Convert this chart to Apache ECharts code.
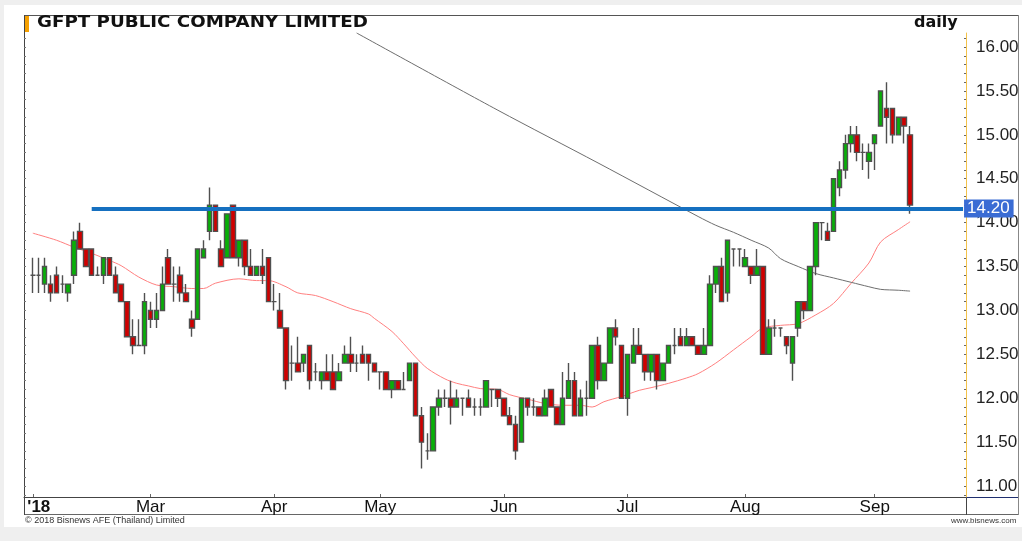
<!DOCTYPE html>
<html>
<head>
<meta charset="utf-8">
<title>GFPT daily</title>
<script src="https://cdn.jsdelivr.net/npm/echarts@6/dist/echarts.min.js"></script>
<style>
  html, body { margin: 0; padding: 0; background: #efefef; }
  #chart { width: 1022px; height: 541px; }
</style>
</head>
<body>
<div id="chart"></div>
<script>
// daily bars, Feb 1 - Sep 11 2018 (slot 0 and the last slots are empty)
var opens = [
  13.4, 13.4, 13.3, 13.3, 13.4, 13.3, 13.2, 13.4, 13.9, 13.7,
  13.7, 13.4, 13.4, 13.6, 13.4, 13.3, 13.1, 12.7, 12.6, 12.6,
  13.0, 12.9, 13.0, 13.6, 13.3, 13.4, 13.2, 12.9, 12.9, 13.6,
  13.9, 14.2, 13.7, 13.6, 14.2, 13.6, 13.8, 13.5, 13.4, 13.5,
  13.6, 13.1, 13.0, 12.8, 12.4, 12.4, 12.4, 12.6, 12.3, 12.2,
  12.3, 12.3, 12.2, 12.4, 12.5, 12.4, 12.5, 12.5, 12.4, 12.3,
  12.3, 12.1, 12.2, 12.1, 12.2, 12.4, 11.8, 11.4, 11.4, 11.9,
  12.0, 12.0, 11.9, 12.0, 12.0, 11.9, 11.9, 11.9, 12.1, 12.1,
  12.0, 11.8, 11.7, 11.5, 12.0, 11.9, 11.9, 11.8, 12.1, 11.9,
  11.7, 12.0, 12.2, 11.8, 12.0, 12.0, 12.6, 12.2, 12.4, 12.8,
  12.6, 12.0, 12.4, 12.6, 12.5, 12.3, 12.5, 12.2, 12.4, 12.6,
  12.7, 12.6, 12.7, 12.6, 12.5, 12.6, 13.3, 13.5, 13.2, 13.7,
  13.7, 13.5, 13.5, 13.4, 13.5, 12.5, 12.8, 12.8, 12.7, 12.4,
  12.8, 13.1, 13.0, 13.5, 14.0, 13.9, 13.9, 14.4, 14.6, 14.9,
  15.0, 14.8, 14.7, 14.9, 15.1, 15.3, 15.3, 15.0, 15.2, 15.0
];
var closes = [
  13.4, 13.4, 13.5, 13.2, 13.2, 13.3, 13.3, 13.8, 13.7, 13.5,
  13.4, 13.4, 13.6, 13.4, 13.2, 13.1, 12.7, 12.6, 12.6, 13.1,
  12.9, 13.0, 13.3, 13.3, 13.3, 13.2, 13.1, 12.8, 13.7, 13.7,
  14.2, 13.9, 13.5, 14.1, 13.6, 13.8, 13.5, 13.4, 13.5, 13.4,
  13.1, 13.1, 12.8, 12.2, 12.4, 12.3, 12.5, 12.2, 12.3, 12.3,
  12.2, 12.1, 12.3, 12.5, 12.4, 12.4, 12.4, 12.4, 12.3, 12.3,
  12.1, 12.2, 12.1, 12.1, 12.4, 11.8, 11.5, 11.4, 11.9, 12.0,
  12.0, 11.9, 12.0, 12.0, 11.9, 11.9, 11.9, 12.2, 12.1, 12.0,
  11.8, 11.7, 11.4, 12.0, 11.9, 11.9, 11.8, 12.0, 11.9, 11.7,
  12.0, 12.2, 11.8, 12.0, 12.0, 12.6, 12.2, 12.4, 12.8, 12.7,
  12.0, 12.5, 12.6, 12.5, 12.3, 12.5, 12.2, 12.4, 12.6, 12.6,
  12.6, 12.7, 12.6, 12.5, 12.6, 13.3, 13.5, 13.1, 13.8, 13.7,
  13.7, 13.6, 13.4, 13.5, 12.5, 12.8, 12.8, 12.8, 12.6, 12.7,
  13.1, 13.0, 13.5, 14.0, 14.0, 13.8, 14.5, 14.6, 14.9, 15.0,
  14.8, 14.8, 14.8, 15.0, 15.5, 15.2, 15.0, 15.2, 15.1, 14.2
];
var lows = [
  13.2, 13.2, 13.2, 13.1, 13.2, 13.2, 13.1, 13.3, 13.7, 13.5,
  13.4, 13.4, 13.3, 13.4, 13.2, 13.1, 12.7, 12.5, 12.6, 12.5,
  12.8, 12.8, 13.0, 13.3, 13.1, 13.1, 13.1, 12.7, 12.9, 13.6,
  13.8, 13.9, 13.5, 13.6, 13.6, 13.5, 13.4, 13.4, 13.4, 13.3,
  13.1, 13.0, 12.8, 12.1, 12.2, 12.3, 12.3, 12.1, 12.2, 12.1,
  12.2, 12.1, 12.2, 12.4, 12.3, 12.3, 12.4, 12.2, 12.3, 12.1,
  12.1, 12.0, 12.1, 12.1, 12.2, 11.8, 11.2, 11.3, 11.4, 11.8,
  11.9, 11.7, 11.9, 11.8, 11.9, 11.8, 11.8, 11.9, 11.9, 11.9,
  11.8, 11.7, 11.3, 11.5, 11.8, 11.8, 11.8, 11.8, 11.9, 11.7,
  11.7, 12.0, 11.8, 11.8, 11.8, 12.0, 12.1, 12.2, 12.4, 12.6,
  12.0, 11.8, 12.4, 12.5, 12.2, 12.2, 12.1, 12.2, 12.4, 12.5,
  12.6, 12.6, 12.6, 12.5, 12.5, 12.6, 13.2, 13.1, 13.1, 13.5,
  13.5, 13.5, 13.3, 13.4, 12.5, 12.5, 12.7, 12.7, 12.5, 12.2,
  12.7, 12.9, 13.0, 13.4, 13.8, 13.8, 13.9, 14.3, 14.5, 14.8,
  14.7, 14.6, 14.5, 14.6, 15.1, 14.9, 14.9, 15.0, 14.9, 14.1
];
var highs = [
  13.6, 13.6, 13.6, 13.4, 13.5, 13.4, 13.3, 13.9, 14.0, 13.7,
  13.7, 13.5, 13.6, 13.6, 13.5, 13.3, 13.1, 12.9, 12.9, 13.2,
  13.1, 13.2, 13.5, 13.7, 13.5, 13.5, 13.3, 13.0, 13.7, 13.8,
  14.4, 14.2, 13.8, 14.1, 14.2, 13.8, 13.8, 13.7, 13.5, 13.7,
  13.6, 13.3, 13.2, 12.8, 12.6, 12.7, 12.5, 12.6, 12.4, 12.3,
  12.5, 12.5, 12.4, 12.6, 12.7, 12.5, 12.6, 12.5, 12.4, 12.3,
  12.3, 12.2, 12.2, 12.3, 12.4, 12.4, 11.9, 11.6, 11.9, 12.1,
  12.1, 12.2, 12.1, 12.0, 12.1, 12.0, 12.0, 12.2, 12.1, 12.1,
  12.0, 11.9, 11.8, 12.0, 12.0, 12.0, 11.9, 12.1, 12.1, 11.9,
  12.3, 12.4, 12.3, 12.1, 12.2, 12.6, 12.7, 12.4, 12.8, 12.9,
  12.6, 12.5, 12.8, 12.8, 12.5, 12.5, 12.5, 12.4, 12.6, 12.8,
  12.8, 12.8, 12.7, 12.6, 12.8, 13.4, 13.5, 13.6, 13.8, 13.7,
  13.7, 13.7, 13.5, 13.7, 13.5, 12.9, 12.9, 12.8, 12.7, 12.7,
  13.1, 13.1, 13.5, 14.0, 14.0, 14.0, 14.5, 14.7, 15.0, 15.1,
  15.1, 14.9, 14.9, 15.0, 15.5, 15.6, 15.3, 15.2, 15.2, 15.1
];

// moving averages: [slot, price]
var maRed = [
  [1, 13.88], [5, 13.80], [8, 13.72], [11, 13.65], [14, 13.57], [16, 13.51],
  [19, 13.38], [22, 13.29], [25, 13.27], [28, 13.25], [30, 13.25], [32, 13.31],
  [36, 13.36], [39, 13.34], [41, 13.34], [44, 13.27], [46, 13.20], [49, 13.17],
  [52, 13.10], [55, 13.02], [58, 12.96], [59, 12.91], [62, 12.76], [64, 12.62],
  [66, 12.47], [68, 12.34], [71, 12.22], [73, 12.17], [75, 12.14], [77, 12.11],
  [80, 12.10], [82, 12.04], [85, 11.99], [88, 11.94], [91, 11.92], [94, 11.92],
  [96, 11.90], [98, 11.96], [101, 12.02], [104, 12.09], [106, 12.12], [109, 12.17],
  [112, 12.23], [114, 12.28], [117, 12.40], [120, 12.55], [123, 12.70], [125, 12.80],
  [128, 12.83], [131, 12.85], [134, 12.95], [137, 13.08], [140, 13.31], [143, 13.54],
  [145, 13.78], [148, 13.92], [150, 14.01]
];
var maGray = [
  [56, 16.16], [80, 15.28], [97, 14.68], [114, 14.07], [117, 13.97], [120, 13.89],
  [123, 13.80], [126, 13.71], [128, 13.59], [131, 13.50], [134, 13.42], [137, 13.37],
  [140, 13.32], [143, 13.27], [145, 13.24], [148, 13.23], [150, 13.22]
];

var supportLine = 14.16;
var supportLabel = '14.20';
var supportFrom = 11;

var monthStarts = [1, 21, 42, 60, 81, 102, 122, 144];
var monthNames = ["'18", 'Mar', 'Apr', 'May', 'Jun', 'Jul', 'Aug', 'Sep'];
var yTicks = [11, 11.5, 12, 12.5, 13, 13.5, 14, 14.5, 15, 15.5, 16];
var yMinor = [];
for (var t = 109; t <= 161; t++) yMinor.push(t / 10);

var slotCount = 160;
var slots = [];
var bars = [];
for (var i = 0; i < slotCount; i++) {
  slots.push(String(i));
  var k = i - 1;
  if (k >= 0 && k < opens.length) {
    bars.push([opens[k], closes[k], lows[k], highs[k]]);
  } else {
    bars.push('-');
  }
}

var chart = echarts.init(document.getElementById('chart'));
var FONT = 'Liberation Sans, Arial, sans-serif';
var WIDE = 'DejaVu Sans, Verdana, sans-serif';

chart.setOption({
  animation: false,
  backgroundColor: 'transparent',
  grid: { left: 24, right: 56, top: 33, bottom: 44 },
  xAxis: {
    type: 'category',
    data: slots,
    boundaryGap: true,
    axisLine: { lineStyle: { color: '#444', width: 1 } },
    axisTick: {
      show: true,
      inside: true,
      length: 3,
      alignWithLabel: true,
      interval: function (idx) { return monthStarts.indexOf(idx) >= 0; },
      lineStyle: { color: '#666' }
    },
    axisLabel: {
      interval: function (idx) { return monthStarts.indexOf(idx) >= 0; },
      formatter: function (v, idx) {
        var m = monthStarts.indexOf(idx);
        if (m < 0) return '';
        return m === 0 ? '{b|' + monthNames[m] + '}' : monthNames[m];
      },
      rich: {
        b: { fontWeight: 'bold', fontSize: 17, fontFamily: FONT, color: '#111', padding: [0, 0, 0, 12] }
      },
      margin: 2,
      fontSize: 17,
      fontFamily: FONT,
      color: '#111'
    },
    splitLine: { show: false }
  },
  yAxis: [{
    type: 'value',
    position: 'right',
    min: 10.875,
    max: 16.16,
    axisLine: { show: true, lineStyle: { color: '#f3c24a', width: 1 } },
    axisTick: {
      show: true,
      inside: true,
      length: 2,
      customValues: yMinor,
      lineStyle: { color: '#666' }
    },
    axisLabel: {
      customValues: yTicks,
      formatter: function (v) { return v.toFixed(2); },
      margin: 10,
      fontSize: 17,
      fontFamily: FONT,
      color: '#222'
    },
    splitLine: { show: false }
  }, {
    type: 'value',
    position: 'left',
    min: 10.875,
    max: 16.16,
    axisLine: { show: true, lineStyle: { color: '#444', width: 1 } },
    axisTick: {
      show: true,
      inside: true,
      length: 2,
      customValues: yMinor,
      lineStyle: { color: '#777' }
    },
    axisLabel: { show: false },
    splitLine: { show: false }
  }],
  series: [{
    type: 'line',
    data: maRed,
    showSymbol: false,
    smooth: 0.3,
    z: 1,
    silent: true,
    lineStyle: { color: '#ff8080', width: 1 }
  }, {
    type: 'line',
    data: maGray,
    showSymbol: false,
    smooth: 0.3,
    z: 1,
    silent: true,
    clip: false,
    lineStyle: { color: '#6e6e6e', width: 1 }
  }, {
    type: 'candlestick',
    data: bars,
    barWidth: 5,
    z: 3,
    itemStyle: {
      color: '#07b007',
      color0: '#d00000',
      borderColor: '#505050',
      borderColor0: '#505050',
      borderColorDoji: '#505050',
      borderWidth: 1.4
    },
    markLine: {
      silent: true,
      symbol: 'none',
      z: 5,
      lineStyle: { color: '#1670c0', width: 4, type: 'solid' },
      label: {
        show: true,
        position: 'end',
        distance: 1,
        formatter: supportLabel,
        color: '#fff',
        backgroundColor: '#3a6cd4',
        fontSize: 17,
        fontFamily: FONT,
        padding: [1, 4, 0, 3]
      },
      data: [[
        { xAxis: supportFrom, yAxis: supportLine },
        { xAxis: slotCount - 1, yAxis: supportLine }
      ]]
    }
  }],
  graphic: [
    { type: 'rect', z: -10, shape: { x: 4, y: 5, width: 1018, height: 522 }, style: { fill: '#fff' } },
    { type: 'line', shape: { x1: 24, y1: 15.5, x2: 1018, y2: 15.5 }, style: { stroke: '#555', lineWidth: 1 } },
    { type: 'line', shape: { x1: 24.5, y1: 15, x2: 24.5, y2: 33 }, style: { stroke: '#444', lineWidth: 1 } },
    { type: 'rect', shape: { x: 25, y: 16, width: 4, height: 16 }, style: { fill: '#f5a000' } },
    { type: 'line', shape: { x1: 1018.5, y1: 15, x2: 1018.5, y2: 515 }, style: { stroke: '#888', lineWidth: 1 } },
    { type: 'line', shape: { x1: 24, y1: 514.5, x2: 1018, y2: 514.5 }, style: { stroke: '#666', lineWidth: 1 } },
    { type: 'line', shape: { x1: 24.5, y1: 497, x2: 24.5, y2: 515 }, style: { stroke: '#444', lineWidth: 1 } },
    { type: 'line', shape: { x1: 966.5, y1: 497, x2: 966.5, y2: 515 }, style: { stroke: '#444', lineWidth: 1 } },
    { type: 'line', shape: { x1: 966, y1: 497.5, x2: 1018, y2: 497.5 }, style: { stroke: '#1f2f6f', lineWidth: 1 } },
    {
      type: 'text', x: 37, y: 15, scaleX: 1.14,
      style: { text: 'GFPT PUBLIC COMPANY LIMITED', font: 'bold 16px ' + WIDE, fill: '#111' }
    },
    {
      type: 'text', left: 914, top: 15,
      style: { text: 'daily', font: 'bold 16px ' + WIDE, fill: '#111' }
    },
    {
      type: 'text', left: 25, top: 516,
      style: { text: '\u00a9 2018 Bisnews AFE (Thailand) Limited', font: '9px ' + FONT, fill: '#333' }
    },
    {
      type: 'text', left: 951, top: 517,
      style: { text: 'www.bisnews.com', font: '8px ' + FONT, fill: '#333' }
    }
  ]
});
</script>
</body>
</html>
